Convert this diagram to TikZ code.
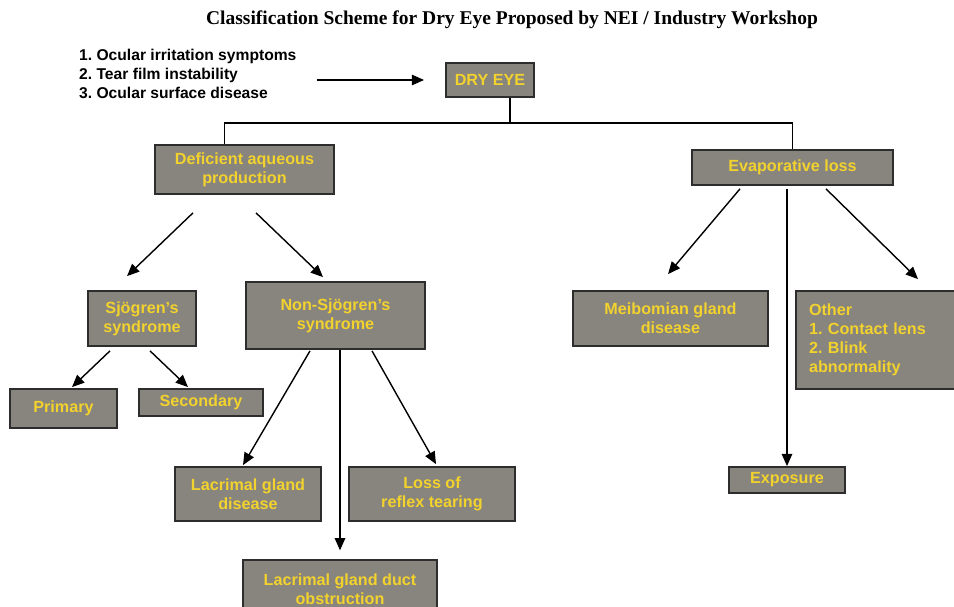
\documentclass[tikz,border=0pt]{standalone}
\usepackage{fontspec}
\setmainfont{Liberation Sans}
\newfontfamily\titlefont{Liberation Serif}
\usetikzlibrary{arrows.meta,calc}
\frenchspacing
\definecolor{boxgray}{RGB}{136,132,126}
\definecolor{boxtext}{RGB}{242,210,45}
\definecolor{boxline}{RGB}{45,45,45}
\tikzset{
  box/.style={draw=boxline, line width=1pt, fill=boxgray, text=boxtext,
    font=\bfseries\fontsize{9.2}{10.8}\selectfont, align=center, inner sep=0pt},
  link/.style={line width=0.8pt, -{Triangle[length=7pt,width=6pt]}},
  tie/.style={line width=0.8pt}
}
\begin{document}
\begin{tikzpicture}[x=0.02cm, y=-0.02cm]
  \useasboundingbox (0,0) rectangle (954,607);
  % title and list of signs
  \node[font=\titlefont\bfseries\fontsize{11.1}{13}\selectfont] (title) at (512,20)
    {Classification Scheme for Dry Eye Proposed by NEI / Industry Workshop};
  \node[anchor=west, align=left, font=\bfseries\fontsize{8.9}{10.6}\selectfont] (signs) at (73,74)
    {1. Ocular irritation symptoms\\2. Tear film instability\\3. Ocular surface disease};

  % boxes
  \node[box, minimum width=1.76cm, minimum height=0.68cm] (dry) at (490,80) {DRY EYE};
  \node[box, minimum width=3.58cm, minimum height=0.98cm] (deficient) at (244.5,169.5) {Deficient aqueous\\production};
  \node[box, minimum width=4.02cm, minimum height=0.70cm] (evap) at (792.5,167.5) {Evaporative loss};
  \node[box, minimum width=2.16cm, minimum height=1.10cm] (sjo) at (142,318.5) {Sjögren's\\syndrome};
  \node[box, minimum width=3.58cm, minimum height=1.34cm] (nonsjo) at (335.5,315.5) {Non-Sjögren's\\syndrome};
  \node[box, minimum width=2.14cm, minimum height=0.78cm] (primary) at (63.5,408.5) {Primary};
  \node[box, minimum width=2.48cm, minimum height=0.54cm] (secondary) at (201,402.5) {Secondary};
  \node[box, minimum width=2.92cm, minimum height=1.08cm] (gland) at (248,494) {Lacrimal gland\\disease};
  \node[box, minimum width=3.32cm, minimum height=1.08cm] (reflex) at (432,494) {Loss of\\reflex tearing};
  \node[box, minimum width=3.88cm, minimum height=1.16cm] (duct) at (340,589) {Lacrimal gland duct\\obstruction};
  \node[box, minimum width=3.90cm, minimum height=1.10cm] (meib) at (670.5,318.5) {Meibomian gland\\disease};
  \node[box, align=left, text width=2.76cm, inner xsep=0.26cm, minimum height=1.96cm] (other) at (878,340)
    {Other\\1. Contact lens\\2. Blink\\abnormality};
  \node[box, minimum width=2.32cm, minimum height=0.52cm] (exposure) at (787,480) {Exposure};

  % connectors
  \coordinate (split) at (510,123);
  \draw[link, shorten <=8pt, shorten >=12pt] (signs.east |- dry.west) -- (dry.west);
  \draw[tie] (dry.south -| split) -- (split);
  \draw[tie] ($(deficient.north)+(-20,0)$) |- (split) -| (evap.north);

  \draw[link] ($(deficient.south)+(-51.5,18)$) -- ($(sjo.north)+(-15,-14)$);
  \draw[link] ($(deficient.south)+(11.5,18)$) -- ($(nonsjo.north)+(-12.5,-4)$);

  \draw[link] ($(sjo.south)+(-32,4)$) -- ($(primary.north)+(8.5,-1)$);
  \draw[link] ($(sjo.south)+(8,4)$) -- ($(secondary.north)+(-13,-1)$);

  \draw[link] ($(nonsjo.south)+(-25.5,1)$) -- ($(gland.north)+(-5,-1)$);
  \draw[link, shorten >=5pt] (duct.north |- nonsjo.south) -- (duct.north);
  \draw[link] ($(nonsjo.south)+(36.5,1)$) -- ($(reflex.north)+(4,-2)$);

  \draw[link] ($(evap.south)+(-52.5,3)$) -- ($(meib.north)+(-2.5,-16)$);
  \draw[link, shorten <=2pt] (exposure.north |- evap.south) -- (exposure.north);
  \draw[link] ($(evap.south)+(33.5,3)$) -- ($(other.north)+(40,-11)$);
\end{tikzpicture}
\end{document}
